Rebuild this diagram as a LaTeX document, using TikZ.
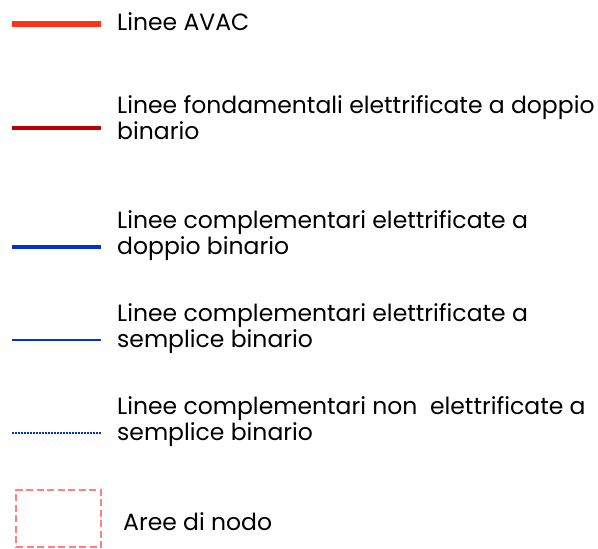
\documentclass[tikz,border=0pt]{standalone}
\usepackage{fontspec}
\setmainfont{Poppins}
\usetikzlibrary{positioning}
\definecolor{avacred}{RGB}{255,51,26}
\definecolor{fondred}{RGB}{192,0,0}
\definecolor{complblue}{RGB}{0,51,204}
\definecolor{nodopink}{RGB}{255,128,128}
\tikzset{
  legtext/.style={anchor=base west, inner sep=0pt, align=left,
                  font=\fontsize{23.5}{26}\selectfont},
  avacline/.style={draw=avacred, line width=5.5pt},
  fondline/.style={draw=fondred, line width=4.5pt},
  compldline/.style={draw=complblue, line width=4.5pt},
  complsline/.style={draw=complblue, line width=2pt},
  complneline/.style={draw=complblue, line width=1.5pt, dash pattern=on 1.5pt off 1.5pt},
  nodobox/.style={rectangle, draw=nodopink, line width=2.5pt,
                  dash pattern=on 7pt off 3.5pt, minimum width=85pt, minimum height=57pt},
}
\begin{document}
\begin{tikzpicture}[x=1pt, y=-1pt]
  \useasboundingbox (0,0) rectangle (598,549);
  % legend texts (base = last line)
  \node[legtext] (avac) at (117,30) {Linee AVAC};
  \node[legtext] (fond) at (117,139) {Linee fondamentali elettrificate a doppio\\binario};
  \node[legtext] (compld) at (117,254) {Linee complementari elettrificate a\\doppio binario};
  \node[legtext] (compls) at (117,347) {Linee complementari elettrificate a\\semplice binario};
  \node[legtext] (complne) at (117,440) {Linee complementari non\ \ elettrificate a\\semplice binario};
  % line samples
  \foreach \name/\y/\sty in {avac/24/avacline, fond/128/fondline, compld/247/compldline,
                             compls/340/complsline, complne/433/complneline}{
    \coordinate (\name-l) at (12,\y);
    \coordinate (\name-r) at (101,\y);
    \draw[\sty] (\name-l) -- (\name-r);
  }
  % node areas
  \node[nodobox] (nodo) at (58.5,518.5) {};
  \node[legtext] (nodotxt) at (123,530) {Aree di nodo};
\end{tikzpicture}
\end{document}
